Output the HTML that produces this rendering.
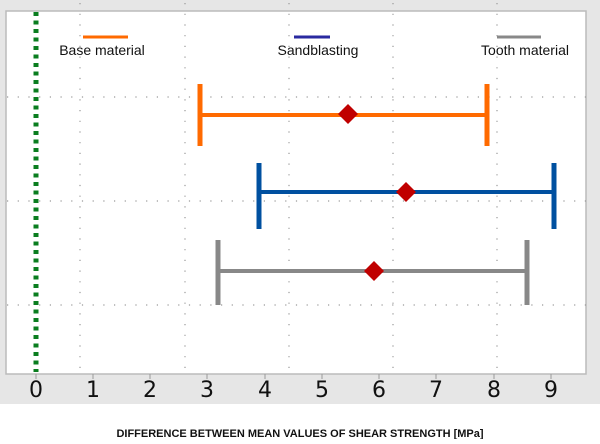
<!DOCTYPE html><html><head><style>body{margin:0;background:#fff}</style></head><body>
<svg width="600" height="439" xmlns="http://www.w3.org/2000/svg" font-family="Liberation Sans, sans-serif">
<rect x="0" y="0" width="600" height="404" fill="#e6e6e6"/>
<rect x="6" y="11" width="580" height="363" fill="#fff"/>
<rect x="6" y="11" width="580" height="363" fill="none" stroke="#bbb" stroke-width="1.5"/>
<g stroke="#999" stroke-width="1.2" stroke-dasharray="1.2 9.5">
<line x1="80" y1="3" x2="80" y2="372"/><line x1="185" y1="3" x2="185" y2="372"/><line x1="289" y1="3" x2="289" y2="372"/><line x1="393" y1="3" x2="393" y2="372"/><line x1="497" y1="3" x2="497" y2="372"/>
<line x1="7" y1="97" x2="586" y2="97"/><line x1="7" y1="201" x2="586" y2="201"/><line x1="7" y1="305" x2="586" y2="305"/>
</g>
<line x1="36" y1="12" x2="36" y2="372" stroke="#0a7d1f" stroke-width="5" stroke-dasharray="4 4.5"/>
<g stroke="#999" stroke-width="1"><line x1="36" y1="374" x2="36" y2="379"/><line x1="93" y1="374" x2="93" y2="379"/><line x1="150" y1="374" x2="150" y2="379"/><line x1="207" y1="374" x2="207" y2="379"/><line x1="265" y1="374" x2="265" y2="379"/><line x1="322" y1="374" x2="322" y2="379"/><line x1="379" y1="374" x2="379" y2="379"/><line x1="436" y1="374" x2="436" y2="379"/><line x1="494" y1="374" x2="494" y2="379"/><line x1="551" y1="374" x2="551" y2="379"/></g>
<g font-size="22" fill="#111" text-anchor="middle" font-family="DejaVu Sans, sans-serif"><text x="36" y="397">0</text><text x="93" y="397">1</text><text x="150" y="397">2</text><text x="207" y="397">3</text><text x="265" y="397">4</text><text x="322" y="397">5</text><text x="379" y="397">6</text><text x="436" y="397">7</text><text x="494" y="397">8</text><text x="551" y="397">9</text></g>
<g stroke="#ff6a00" stroke-width="5"><line x1="200" y1="84" x2="200" y2="146"/><line x1="487" y1="84" x2="487" y2="146"/><line x1="200" y1="115" x2="487" y2="115" stroke-width="4"/><line x1="83" y1="37" x2="128" y2="37" stroke-width="3"/></g>
<g stroke="#0050a0" stroke-width="5"><line x1="259" y1="163" x2="259" y2="229"/><line x1="554" y1="163" x2="554" y2="229"/><line x1="259" y1="192" x2="554" y2="192" stroke-width="4"/></g>
<line x1="294" y1="37" x2="330" y2="37" stroke="#2a2aa0" stroke-width="3"/>
<g stroke="#888" stroke-width="5"><line x1="218" y1="240" x2="218" y2="305"/><line x1="527" y1="240" x2="527" y2="305"/><line x1="218" y1="271" x2="527" y2="271" stroke-width="4"/><line x1="497" y1="37" x2="541" y2="37" stroke-width="3"/></g>
<g fill="#c00000"><path d="M348 104 L358 114 L348 124 L338 114Z"/><path d="M406 182 L416 192 L406 202 L396 192Z"/><path d="M374 261 L384 271 L374 281 L364 271Z"/></g>
<g font-size="14" fill="#111" text-anchor="middle"><text x="102" y="55">Base material</text><text x="318" y="55">Sandblasting</text><text x="525" y="55">Tooth material</text></g>
<text x="300" y="437" font-size="11" font-weight="bold" text-anchor="middle" fill="#111">DIFFERENCE BETWEEN MEAN VALUES OF SHEAR STRENGTH [MPa]</text>
</svg></body></html>
